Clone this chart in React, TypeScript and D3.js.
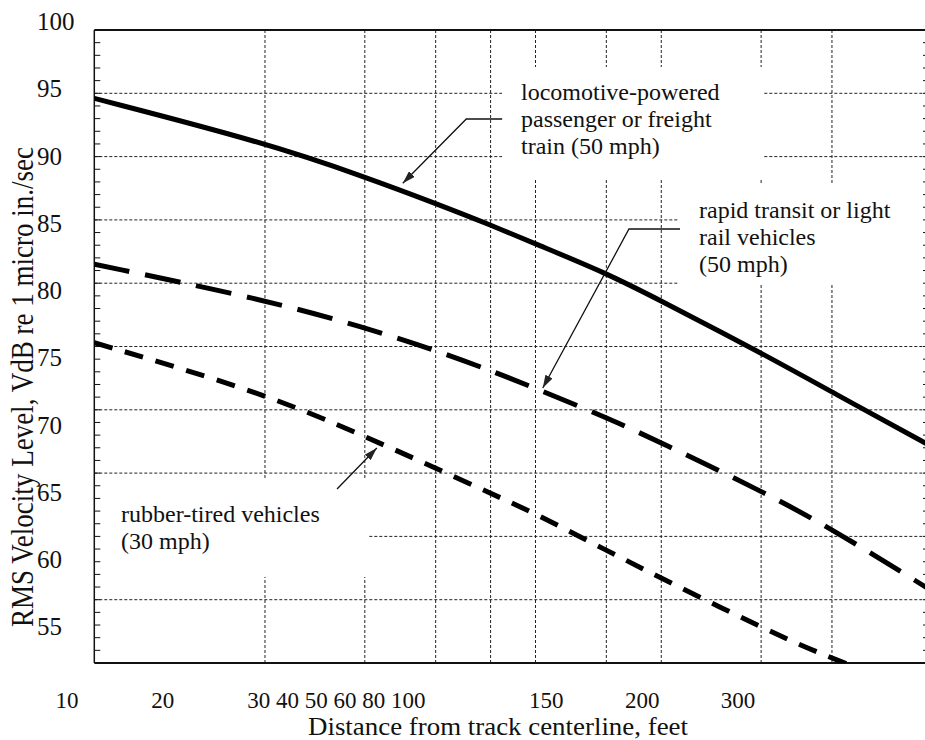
import React from 'react';
import * as d3 from 'd3';

// distance from track centerline (ft) and vibration level (VdB)
const distances = [10, 20, 30, 40, 50, 60, 80, 100, 150, 200, 300];
const locomotive = [94.6, 91.1, 88.4, 86.3, 84.6, 83.1, 80.8, 78.6, 74.5, 71.4, 67.1];
const rapidTransit = [81.5, 78.7, 76.5, 74.7, 73.1, 71.7, 69.4, 67.4, 63.6, 60.6, 55.7];
const rubberTired = [75.3, 71.3, 67.9, 65.4, 63.4, 61.8, 58.9, 56.7, 52.8, 50.3, 47.5];

const gridDistances = [20, 30, 40, 50, 60, 80, 100, 150, 200];
const gridLevels = [55, 60, 65, 70, 75, 80, 85, 90, 95];
const minorLevels = d3.range(51, 100);
const yTickLabels = [100, 95, 90, 85, 80, 75, 70, 65, 60, 55];
const xTickLabels = ['10', '20', '30 40 50 60 80 100', '150', '200', '300'];
const xTickSlots = [0, 1, 2, 5, 6, 7];

// arrows: [distance, level] points, last one is the arrow tip
const arrows: [number, number][][] = [
  [[52.4, 92.97], [45.3, 92.97], [35.0, 87.9]],
  [[107.9, 84.28], [87.7, 84.28], [61.8, 71.72]],
  [[26.8, 63.74], [31.5, 66.98]],
];

const annotations = [
  { x: 521, y: 100, lines: ['locomotive-powered', 'passenger or freight', 'train (50 mph)'] },
  { x: 699, y: 218, lines: ['rapid transit or light', 'rail vehicles', '(50 mph)'] },
  { x: 121, y: 522, lines: ['rubber-tired vehicles', '(30 mph)'] },
];

// white backgrounds behind the annotation text (they cut the grid)
const labelBoxes = [
  { x: 502, y: 67, w: 261, h: 111 },
  { x: 678, y: 183, w: 260, h: 102 },
  { x: 94, y: 480, w: 275, h: 97 },
];

const W = 925;
const H = 740;
const plot = { left: 94.3, right: 931.8, top: 30, bottom: 663 };
const font = "'Liberation Serif', 'Times New Roman', serif";

export default function App() {
  const x = d3.scaleLog().domain([10, 300]).range([plot.left, plot.right]);
  const y = d3.scaleLinear().domain([50, 100]).range([plot.bottom, plot.top]);
  const labelY = d3.scaleLinear().domain([55, 100]).range([627, 22]);
  const slotX = d3.scaleLinear().domain([0, 7]).range([67, 738]);

  const line = d3
    .line<number>()
    .x((_, i) => x(distances[i]))
    .y((v) => y(v))
    .curve(d3.curveBasis);

  const arrowLine = d3
    .line<[number, number]>()
    .x((d) => x(d[0]))
    .y((d) => y(d[1]));

  const series = [
    { values: locomotive, dash: undefined },
    { values: rapidTransit, dash: '36 16' },
    { values: rubberTired, dash: '19 13' },
  ];

  return (
    <svg
      width={W}
      height={H}
      style={{ position: 'absolute', left: 0, top: 0, background: '#fff' }}
      fontFamily={font}
    >
      <defs>
        <clipPath id="plot-clip">
          <rect x={plot.left} y={plot.top} width={plot.right - plot.left} height={plot.bottom - plot.top} />
        </clipPath>
        <marker
          id="arrow-head"
          viewBox="0 0 13 8"
          refX={13}
          refY={4}
          markerWidth={13}
          markerHeight={8}
          markerUnits="userSpaceOnUse"
          orient="auto"
        >
          <path d="M0,0L13,4L0,8z" fill="#222" />
        </marker>
      </defs>

      {/* grid */}
      <g stroke="#222" strokeWidth={1} strokeDasharray="3 2">
        {gridLevels.map((v) => (
          <line key={'h' + v} x1={plot.left} x2={plot.right} y1={y(v)} y2={y(v)} />
        ))}
        {gridDistances.map((d) => (
          <line key={'v' + d} x1={x(d)} x2={x(d)} y1={plot.top} y2={plot.bottom} />
        ))}
      </g>

      {labelBoxes.map((b, i) => (
        <rect key={i} x={b.x} y={b.y} width={b.w} height={b.h} fill="#fff" />
      ))}

      {/* frame and minor ticks */}
      <g stroke="#111">
        <line x1={plot.left} x2={plot.right} y1={plot.top} y2={plot.top} strokeWidth={2} />
        <line x1={plot.left} x2={plot.right} y1={plot.bottom} y2={plot.bottom} strokeWidth={2} />
        <line x1={plot.left} x2={plot.left} y1={plot.top} y2={plot.bottom} strokeWidth={1.5} />
        {minorLevels.map((v) => (
          <g key={'t' + v} strokeWidth={1}>
            <line x1={plot.left} x2={plot.left + 6} y1={y(v)} y2={y(v)} />
            <line x1={923} x2={930} y1={y(v)} y2={y(v)} />
          </g>
        ))}
      </g>

      {/* curves */}
      <g clipPath="url(#plot-clip)" fill="none" stroke="#000" strokeWidth={5}>
        {series.map((s, i) => (
          <path key={i} d={line(s.values) ?? ''} strokeDasharray={s.dash} />
        ))}
      </g>

      {/* arrows */}
      <g fill="none" stroke="#111" strokeWidth={1.3}>
        {arrows.map((a, i) => (
          <path key={i} d={arrowLine(a) ?? ''} markerEnd="url(#arrow-head)" />
        ))}
      </g>

      {/* annotation text */}
      {annotations.map((a, i) => (
        <text key={i} x={a.x} y={a.y} fontSize={24} fill="#111">
          {a.lines.map((l, j) => (
            <tspan key={j} x={a.x} dy={j === 0 ? 0 : 27}>
              {l}
            </tspan>
          ))}
        </text>
      ))}

      {/* y tick labels */}
      {yTickLabels.map((v) => (
        <text key={'yl' + v} x={37} y={labelY(v)} dy="0.33em" fontSize={25} fill="#111">
          {v}
        </text>
      ))}

      {/* x tick labels */}
      {xTickLabels.map((t, i) => (
        <text
          key={'xl' + i}
          x={slotX(xTickSlots[i])}
          y={708}
          dx={t.length > 3 ? '-0.5em' : 0}
          textAnchor={t.length > 3 ? 'start' : 'middle'}
          fontSize={23}
          fill="#111"
        >
          {t}
        </text>
      ))}

      <text
        x={498}
        y={735}
        textAnchor="middle"
        fontSize={25.5}
        textLength={380}
        lengthAdjust="spacingAndGlyphs"
        fill="#111"
      >
        Distance from track centerline, feet
      </text>
      <text
        transform="translate(33,387) rotate(-90)"
        textAnchor="middle"
        fontSize={31}
        textLength={480}
        lengthAdjust="spacingAndGlyphs"
        fill="#111"
      >
        RMS Velocity Level, VdB re 1 micro in./sec
      </text>
    </svg>
  );
}
